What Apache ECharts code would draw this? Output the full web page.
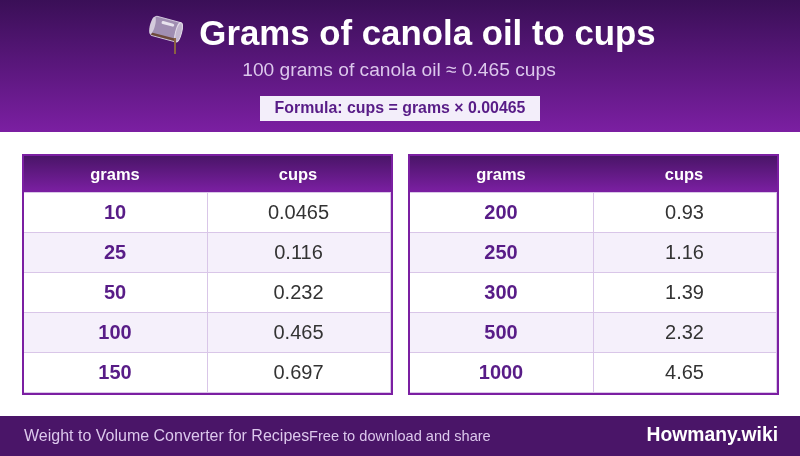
<!DOCTYPE html>
<html><head><meta charset="utf-8">
<script src="https://cdn.jsdelivr.net/npm/echarts@6/dist/echarts.min.js"></script>
<style>html,body{margin:0;padding:0;background:#fff}#c{width:800px;height:456px}</style></head>
<body><div id="c"></div>
<script>
const titleText = "Grams of canola oil to cups";
const subtitleText = "100 grams of canola oil ≈ 0.465 cups";
const formulaText = "Formula: cups = grams × 0.00465";
const footerLeft = "Weight to Volume Converter for Recipes";
const footerMid = "Free to download and share";
const footerRight = "Howmany.wiki";
const columnNames = ["grams", "cups"];
const gramsLeft = ["10", "25", "50", "100", "150"];
const cupsLeft = ["0.0465", "0.116", "0.232", "0.465", "0.697"];
const gramsRight = ["200", "250", "300", "500", "1000"];
const cupsRight = ["0.93", "1.16", "1.39", "2.32", "4.65"];

const FONT = '"Liberation Sans", Arial, sans-serif';
const PURPLE = '#7b1fa2', DARK = '#4a1568', TOP = '#3a0f57', LINE = '#d9c6e8', SOFT = '#dcc8ec';
const grad = (a, b) => new echarts.graphic.LinearGradient(0, 0, 0, 1, [{offset: 0, color: a}, {offset: 1, color: b}]);
const els = [];
const rect = (x, y, w, h, fill, extra) => els.push(Object.assign({type: 'rect', shape: {x, y, width: w, height: h}, style: {fill}, silent: true}, extra || {}));
const text = (x, y, t, size, weight, fill, align) => els.push({type: 'text', x, y, silent: true, style: {text: t, fontFamily: FONT, fontSize: size, fontWeight: weight, fill, align: align || 'center', verticalAlign: 'middle'}});

// banner
rect(0, 0, 800, 132, grad(TOP, PURPLE));
text(427.5, 35.5, titleText, 34.8, 'bold', '#ffffff');
text(399, 71, subtitleText, 19.2, 'normal', SOFT);
rect(260, 96, 280, 25, '#f3eefa');
text(400, 109, formulaText, 15.9, 'bold', '#581c87');

// tilted glass icon
els.push({type: 'group', x: 166, y: 29, rotation: -0.26, silent: true, children: [
  {type: 'rect', shape: {x: -14, y: -10, width: 28, height: 20, r: 3}, style: {fill: '#a08eb2', stroke: '#cfc5da', lineWidth: 1}},
  {type: 'rect', shape: {x: -6, y: -7, width: 13, height: 3, r: 1.5}, style: {fill: '#e8e3ee'}},
  {type: 'rect', shape: {x: -13, y: 7, width: 26, height: 2.5}, style: {fill: '#6e4a3a'}},
  {type: 'ellipse', shape: {cx: 13, cy: 0, rx: 3, ry: 10}, style: {fill: '#c4b8d0', stroke: '#e2dbe8', lineWidth: 1}},
  {type: 'ellipse', shape: {cx: -14, cy: 0, rx: 2.5, ry: 9}, style: {fill: '#d4cbdc'}}
]});
rect(174, 38, 2, 16, '#8b6242');

// tables
function table(x0, grams, cups) {
  const W = 371, Y0 = 154, H = 241, split = 185, headH = 38, rowH = 40;
  rect(x0, Y0, W, H, PURPLE);
  rect(x0 + 2, Y0 + 2, W - 4, H - 4, '#ffffff');
  rect(x0 + 2, Y0 + 2, W - 4, headH - 2, grad(DARK, PURPLE));
  rect(x0 + 2, Y0 + headH, W - 4, 1, LINE);
  rect(x0 + W - 3, Y0 + headH, 1, H - headH - 2, LINE);
  text(x0 + 93, Y0 + 21, columnNames[0], 16.5, 'bold', '#ffffff');
  text(x0 + 276, Y0 + 21, columnNames[1], 16.5, 'bold', '#ffffff');
  grams.forEach((g, i) => {
    const y = Y0 + headH + 1 + i * rowH;
    if (i % 2 === 1) rect(x0 + 2, y, W - 5, rowH - 1, '#f5f0fb');
    rect(x0 + 2, y + rowH - 1, W - 5, 1, LINE);
    rect(x0 + split, y, 1, rowH - 1, LINE);
    text(x0 + 93, y + 20, g, 20, 'bold', '#581c87');
    text(x0 + 276.5, y + 20, cups[i], 20, 'normal', '#333333');
  });
}
table(22, gramsLeft, cupsLeft);
table(408, gramsRight, cupsRight);

// footer
rect(0, 416, 800, 40, DARK);
text(24, 436.5, footerLeft, 16, 'normal', SOFT, 'left');
text(309, 436.5, footerMid, 14.6, 'normal', SOFT, 'left');
text(778, 436, footerRight, 19.3, 'bold', '#ffffff', 'right');

const chart = echarts.init(document.getElementById('c'), null, {renderer: 'canvas'});
chart.setOption({animation: false, backgroundColor: '#ffffff', graphic: {elements: els}});
</script></body></html>
